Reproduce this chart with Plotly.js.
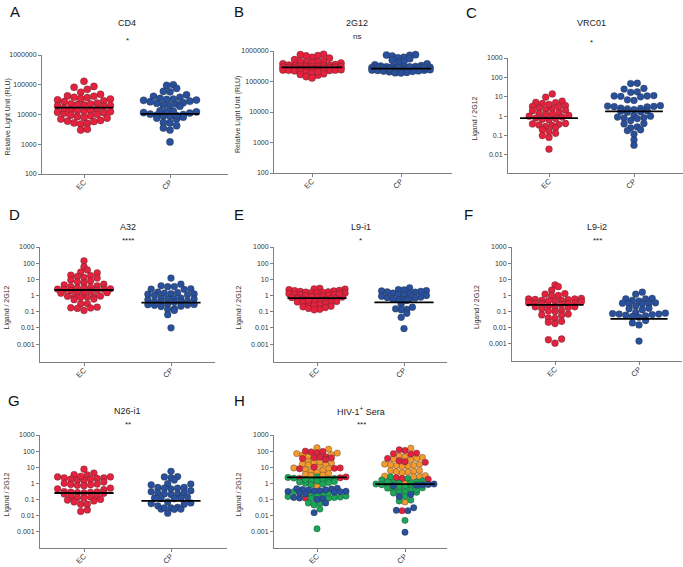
<!DOCTYPE html>
<html>
<head>
<meta charset="utf-8">
<script src="https://cdn.plot.ly/plotly-3.0.1.min.js"></script>
<style>
  body { margin: 0; background: #fff; }
  #chart { width: 683px; height: 567px; }
</style>
</head>
<body>
<div id="chart"></div>
<script>
const groups = ["EC", "CP"]

// y tick labels
const rluTicks = [100, 1000, 10000, 100000, 1000000]
const ratioTicksC = [0.01, 0.1, 1, 10, 100, 1000]
const ratioTicks = [0.001, 0.01, 0.1, 1, 10, 100, 1000]

// A - CD4 (RLU)
const cd4_ec = [130000, 82000, 88000, 56000, 48000, 70000, 42000, 38000, 34000, 31000, 29000, 27000, 33000, 37000, 41000,
  23000, 21000, 19500, 21500, 24000, 22500, 20000, 18500, 14500, 13000, 12000, 11000, 13500, 15000, 11500, 12500, 14000,
  16000, 9000, 8500, 7600, 7000, 8000, 9500, 10200, 5200, 4800, 6000, 6300, 5000, 5800, 3000, 3200]
const cd4_cp = [95000, 100000, 76000, 60000, 58000, 46000, 38000, 35000, 33000, 30000, 32000, 41000, 28000, 25000, 22500,
  20000, 19000, 21000, 24000, 27000, 30500, 13000, 12500, 11200, 10000, 9600, 10300, 11600, 12200, 13300, 9100, 8600,
  7600, 7100, 8100, 9200, 5200, 5400, 3500, 3000, 4200, 1200]
const cd4_med = [17000, 10500]

// B - 2G12 (RLU)
const g12_ec = [780000, 700000, 620000, 520000, 580000, 690000, 760000, 470000, 440000, 420000, 400000, 380000, 410000,
  450000, 360000, 340000, 330000, 320000, 310000, 300000, 305000, 315000, 325000, 345000, 290000, 280000, 270000, 260000,
  265000, 275000, 285000, 295000, 250000, 240000, 235000, 230000, 238000, 245000, 255000, 225000, 220000, 215000, 200000,
  190000, 180000, 170000, 160000, 145000, 130000, 210000]
const g12_cp = [740000, 680000, 760000, 720000, 620000, 600000, 560000, 500000, 450000, 420000, 380000, 350000, 330000,
  320000, 310000, 305000, 300000, 295000, 290000, 285000, 280000, 275000, 270000, 265000, 260000, 255000, 250000, 245000,
  240000, 235000, 230000, 225000, 220000, 215000, 210000, 200000, 195000, 190000, 300000, 290000, 280000, 260000]
const g12_med = [290000, 265000]

// C - VRC01
const vrc_ec = [14, 9.5, 6, 5, 5.2, 4.5, 3.5, 3, 2.5, 2.2, 2.7, 3.2, 4, 2, 1.9, 1.5, 1.3, 1.1, 1.0, 0.9, 1.2, 1.4, 0.75,
  0.7, 0.65, 0.8, 0.4, 0.35, 0.38, 0.33, 0.42, 0.25, 0.3, 0.16, 0.2, 0.1, 0.13, 0.08, 0.02]
const vrc_cp = [50, 48, 25, 27, 17, 18, 11, 10, 11.5, 10.5, 11, 7, 6.5, 3.5, 3, 3.3, 3.2, 3.1, 2.6, 2.4, 2.2, 2.5, 1.8, 1.7,
  1.6, 1.9, 1.1, 1.0, 0.9, 0.85, 0.8, 0.75, 0.6, 0.42, 0.4, 0.25, 0.28, 0.18, 0.2, 0.12, 0.06, 0.032]
const vrc_med = [0.8, 1.75]

// D - A32
const a32_ec = [140, 60, 38, 25, 28, 17, 15, 18, 13, 12, 9, 8, 6, 7, 5, 4.5, 4, 3.6, 3.2, 3, 2.8, 2.5, 2.3, 2.1, 2.0, 1.9,
  2.4, 2.6, 1.6, 1.5, 1.4, 1.55, 0.9, 0.85, 0.8, 0.75, 0.8, 0.92, 0.6, 0.55, 0.32, 0.3, 0.19, 0.17, 0.16, 0.175, 0.12]
const a32_cp = [12, 5, 3.5, 3.6, 4, 2.6, 2.5, 2.4, 1.6, 1.4, 1.3, 1.2, 1.1, 1.0, 1.25, 1.5, 0.7, 0.65, 0.6, 0.55, 0.62,
  0.68, 0.45, 0.42, 0.4, 0.38, 0.41, 0.3, 0.28, 0.26, 0.25, 0.27, 0.22, 0.21, 0.15, 0.14, 0.12, 0.065, 0.01]
const a32_med = [2.2, 0.36]

// E - L9-i1
const l9i1_ec = [2.8, 2.6, 2.5, 2.3, 2.1, 2.0, 1.9, 1.8, 1.7, 1.6, 1.55, 1.5, 1.45, 1.4, 1.3, 1.2, 1.15, 1.1, 1.0, 0.95,
  0.9, 0.85, 0.8, 0.75, 0.7, 0.66, 0.62, 0.58, 0.55, 0.5, 0.46, 0.43, 0.4, 0.38, 0.36, 0.33, 0.3, 0.27, 0.25, 0.22, 0.2,
  0.18, 0.16, 0.14, 0.13, 1.25, 0.88, 0.52]
const l9i1_cp = [3, 2.2, 2.3, 2.0, 1.9, 1.8, 1.6, 1.4, 1.3, 1.2, 1.1, 1.0, 0.9, 0.8, 0.75, 0.7, 0.6, 0.55, 0.55, 0.6, 0.5,
  0.3, 0.19, 0.14, 0.13, 0.15, 0.08, 0.045, 0.009, 1.7]
const l9i1_med = [0.7, 0.38]

// F - L9-i2
const l9i2_ec = [4.5, 3.5, 2.1, 1.3, 1.2, 1.0, 0.95, 0.65, 0.6, 0.55, 0.5, 0.45, 0.42, 0.46, 0.5, 0.56, 0.6, 0.35, 0.33,
  0.3, 0.28, 0.31, 0.32, 0.22, 0.2, 0.18, 0.2, 0.21, 0.15, 0.12, 0.1, 0.11, 0.06, 0.07, 0.062, 0.038, 0.04, 0.025, 0.022,
  0.018, 0.002, 0.0018, 0.0011]
const l9i2_cp = [1.6, 1.2, 0.65, 0.6, 0.62, 0.45, 0.5, 0.35, 0.33, 0.3, 0.31, 0.32, 0.22, 0.15, 0.16, 0.13, 0.09, 0.08,
  0.07, 0.065, 0.055, 0.05, 0.06, 0.07, 0.075, 0.045, 0.028, 0.02, 0.015, 0.0015]
const l9i2_med = [0.26, 0.035]

// G - N26-i1
const n26_ec = [7.5, 4.3, 3.3, 3.5, 2.5, 2.2, 2.0, 1.8, 1.6, 1.5, 1.8, 2.2, 2.5, 2.7, 1.2, 1.0, 0.9, 0.8, 0.85, 0.7, 0.75,
  0.45, 0.5, 0.4, 0.3, 0.28, 0.26, 0.24, 0.25, 0.27, 0.29, 0.22, 0.15, 0.14, 0.13, 0.12, 0.16, 0.09, 0.08, 0.1, 0.07,
  0.05, 0.05, 0.018, 0.022]
const n26_cp = [5.5, 2.5, 2.2, 2.6, 1.6, 0.9, 0.8, 0.95, 0.55, 0.5, 0.45, 0.5, 0.55, 0.3, 0.25, 0.22, 0.2, 0.22, 0.26,
  0.35, 0.14, 0.12, 0.11, 0.12, 0.11, 0.07, 0.06, 0.05, 0.055, 0.032, 0.03, 0.04, 0.025, 0.024, 0.025, 0.03, 0.014]
const n26_med = [0.25, 0.08]

// H - HIV-1+ sera, four colour groups
const sera_ec_orange = [130, 160, 75, 70, 60, 55, 45, 22, 20, 18, 16, 15, 14, 13, 21, 9, 8, 7, 6, 5.5, 5, 4, 3.5, 3, 3.2, 0.7]
const sera_ec_red = [100, 90, 80, 95, 45, 40, 42, 38, 35, 30, 10, 9, 8, 8.5, 2.5, 2.2, 2.0, 0.12]
const sera_ec_green = [2.5, 2.3, 2.0, 1.8, 1.6, 1.5, 1.3, 1.1, 1.0, 0.9, 0.8, 1.2, 1.4, 1.7, 2.1, 0.2, 0.18, 0.15, 0.14,
  0.13, 0.12, 0.11, 0.16, 0.17, 0.055, 0.06, 0.045, 0.025, 0.0015, 0.3, 0.25]
const sera_ec_blue = [0.5, 0.45, 0.4, 0.35, 0.32, 0.3, 0.28, 0.31, 0.33, 0.38, 0.42, 0.46, 0.12, 0.13, 0.11, 0.1, 0.06,
  0.015, 0.25, 0.22]
const sera_cp_orange = [150, 50, 40, 45, 35, 30, 32, 15, 13, 12, 11, 12.5, 14, 15.5, 6, 5.5, 5, 4.5, 5.2, 6.2, 2.8, 2.5,
  2.6, 3, 0.07, 1.0]
const sera_cp_red = [110, 120, 70, 75, 65, 35, 25, 22, 20, 2.2, 2.0, 1.8, 0.02]
const sera_cp_green = [2.5, 2.0, 1.6, 1.4, 1.2, 1.1, 1.0, 0.9, 0.8, 0.7, 0.6, 0.5, 0.4, 0.35, 0.3, 0.28, 0.25, 0.31,
  0.42, 0.52, 0.62, 0.82, 1.05, 1.25, 0.15, 0.08, 0.09, 0.005]
const sera_cp_blue = [0.9, 0.85, 0.8, 0.75, 0.7, 0.2, 0.15, 0.02, 0.021, 0.03, 0.0009]
const sera_med = [2.3, 0.9]

const RED = "#e4223d", BLUE = "#28509c", ORANGE = "#f39a2f", GREEN = "#1ba659"
const W = 683, H = 567
const FONT = "Liberation Sans, Arial, sans-serif"
const RLU = "Relative Light Unit (RLU)"
const LIG = "Ligand / 2G12"

// box: pixel positions of each panel's axes; lo/hi are the log10 range
// row: height of a scatter row in px, dx: spacing of points in a row, maxN: most points in one row
const panels = [
  { letter: "A", title: "CD4", sig: "*", ytitle: RLU, ticks: rluTicks, med: cd4_med,
    sets: [[[cd4_ec, RED]], [[cd4_cp, BLUE]]],
    box: { l: 42, r: 228, t: 55, b: 174, xec: 84, xcp: 170, lo: 2, hi: 6 },
    size: 7.2, row: 6, dx: 6.6, maxN: 9, ty: 23, sy: 40, lx: 15, ly: 11, yx: 7 },
  { letter: "B", title: "2G12", sig: "ns", ytitle: RLU, ticks: rluTicks, med: g12_med,
    sets: [[[g12_ec, RED]], [[g12_cp, BLUE]]],
    box: { l: 274, r: 452, t: 51, b: 173, xec: 312, xcp: 401, lo: 2, hi: 6 },
    size: 7.2, row: 4.6, dx: 5.8, maxN: 11, ty: 23, sy: 36, lx: 239, ly: 11, yx: 238 },
  { letter: "C", title: "VRC01", sig: "*", ytitle: LIG, ticks: ratioTicksC, med: vrc_med,
    sets: [[[vrc_ec, RED]], [[vrc_cp, BLUE]]],
    box: { l: 508, r: 683, t: 58, b: 173, xec: 549, xcp: 634, lo: -2.93, hi: 3 },
    size: 6.8, row: 5, dx: 6.6, maxN: 9, ty: 23, sy: 42, lx: 471, ly: 12, yx: 475 },
  { letter: "D", title: "A32", sig: "****", ytitle: LIG, ticks: ratioTicks, med: a32_med,
    sets: [[[a32_ec, RED]], [[a32_cp, BLUE]]],
    box: { l: 40, r: 215, t: 247, b: 362, xec: 84, xcp: 171, lo: -4.11, hi: 3 },
    size: 6.8, row: 5, dx: 6.6, maxN: 9, ty: 227, sy: 240, lx: 14, ly: 214, yx: 6 },
  { letter: "E", title: "L9-i1", sig: "*", ytitle: LIG, ticks: ratioTicks, med: l9i1_med,
    sets: [[[l9i1_ec, RED]], [[l9i1_cp, BLUE]]],
    box: { l: 274, r: 447, t: 247, b: 362, xec: 317, xcp: 404, lo: -4.11, hi: 3 },
    size: 6.8, row: 4.2, dx: 5.6, maxN: 11, ty: 227, sy: 240, lx: 239, ly: 214, yx: 238 },
  { letter: "F", title: "L9-i2", sig: "***", ytitle: LIG, ticks: ratioTicks, med: l9i2_med,
    sets: [[[l9i2_ec, RED]], [[l9i2_cp, BLUE]]],
    box: { l: 512, r: 682, t: 247, b: 361, xec: 555, xcp: 639, lo: -4.06, hi: 3 },
    size: 6.8, row: 5, dx: 6.6, maxN: 9, ty: 227, sy: 240, lx: 468, ly: 214, yx: 477 },
  { letter: "G", title: "N26-i1", sig: "**", ytitle: LIG, ticks: ratioTicks, med: n26_med,
    sets: [[[n26_ec, RED]], [[n26_cp, BLUE]]],
    box: { l: 40, r: 227, t: 435, b: 548, xec: 84, xcp: 171, lo: -4.02, hi: 3 },
    size: 6.8, row: 5, dx: 6.6, maxN: 9, ty: 411, sy: 424, lx: 14, ly: 400, yx: 6 },
  { letter: "H", title: "HIV-1<sup>+</sup> Sera", sig: "***", ytitle: LIG, ticks: ratioTicks, med: sera_med,
    sets: [
      [[sera_ec_orange, ORANGE], [sera_ec_red, RED], [sera_ec_green, GREEN], [sera_ec_blue, BLUE]],
      [[sera_cp_orange, ORANGE], [sera_cp_red, RED], [sera_cp_green, GREEN], [sera_cp_blue, BLUE]]],
    box: { l: 274, r: 447, t: 435, b: 548, xec: 317, xcp: 405, lo: -4.02, hi: 3 },
    size: 6.4, row: 4.6, dx: 5.8, maxN: 11, ty: 411, sy: 424, lx: 239, ly: 400, yx: 238 },
]

// Prism-style column scatter: bin points into rows, lowest values in the middle of a row
function rows(ys, rowH, dx, maxN) {
  const order = ys.map((y, i) => i).sort((a, b) => ys[a] - ys[b])
  const xs = new Array(ys.length).fill(0)
  let k = 0
  while (k < order.length) {
    const start = ys[order[k]]
    const bin = []
    while (k < order.length && bin.length < maxN && ys[order[k]] - start < rowH) bin.push(order[k++])
    const n = bin.length
    const slots = Array.from({ length: n }, (_, j) => (j - (n - 1) / 2) * dx)
      .sort((a, b) => Math.abs(a) - Math.abs(b) || a - b)
    bin.forEach((idx, j) => { xs[idx] = slots[j] })
  }
  return xs
}

const px = (x) => x / W
const py = (y) => 1 - y / H

const data = []
const annotations = []
const layout = {
  width: W,
  height: H,
  margin: { l: 0, r: 0, t: 0, b: 0 },
  paper_bgcolor: "#fff",
  plot_bgcolor: "rgba(0,0,0,0)",
  showlegend: false,
  font: { family: FONT, color: "#333" },
  annotations,
}

panels.forEach((p, i) => {
  const n = i === 0 ? "" : String(i + 1)
  const b = p.box
  const unit = b.xcp - b.xec
  const pxPerDec = (b.b - b.t) / (b.hi - b.lo)

  p.sets.forEach((sets, g) => {
    const pts = sets.flatMap(([vals, color]) => vals.map((v) => ({ v, color })))
    const offs = rows(pts.map((q) => Math.log10(q.v) * pxPerDec), p.row, p.dx, p.maxN)
    sets.forEach(([, color]) => {
      const idx = pts.map((q, k) => k).filter((k) => pts[k].color === color)
      data.push({
        type: "scatter",
        mode: "markers",
        xaxis: "x" + n,
        yaxis: "y" + n,
        x: idx.map((k) => g + 1 + offs[k] / unit),
        y: idx.map((k) => pts[k].v),
        marker: { size: p.size, color, line: { width: 0.6, color: "rgba(40,40,40,0.55)" } },
        cliponaxis: false,
        hoverinfo: "y",
      })
    })
    data.push({
      type: "scatter",
      mode: "lines",
      xaxis: "x" + n,
      yaxis: "y" + n,
      x: [g + 1 - 0.34, g + 1 + 0.34],
      y: [p.med[g], p.med[g]],
      line: { color: "#000", width: 1.8 },
      hoverinfo: "skip",
    })
  })

  layout["xaxis" + n] = {
    domain: [px(b.l), px(b.r)],
    anchor: "y" + n,
    range: [1 - (b.xec - b.l) / unit, 2 + (b.r - b.xcp) / unit],
    tickmode: "array",
    tickvals: [1, 2],
    ticktext: groups,
    tickangle: -45,
    ticks: "outside",
    ticklen: 3,
    tickcolor: "#808080",
    ticklabelstandoff: -3,
    tickfont: { size: 7.5, color: "#333" },
    showline: true,
    linecolor: "#808080",
    linewidth: 1,
    showgrid: false,
    zeroline: false,
    fixedrange: true,
  }
  layout["yaxis" + n] = {
    domain: [py(b.b), py(b.t)],
    anchor: "x" + n,
    type: "log",
    range: [b.lo, b.hi],
    tickmode: "array",
    tickvals: p.ticks,
    ticktext: p.ticks.map(String),
    ticks: "outside",
    ticklen: 3,
    tickcolor: "#808080",
    tickfont: { size: 7, color: "#333" },
    showline: true,
    linecolor: "#808080",
    linewidth: 1,
    showgrid: false,
    zeroline: false,
    fixedrange: true,
  }

  const cx = (b.xec + b.xcp) / 2
  annotations.push(
    { text: p.letter, x: px(p.lx), y: py(p.ly), xref: "paper", yref: "paper", showarrow: false,
      xanchor: "center", yanchor: "middle", font: { size: 15, color: "#111" } },
    { text: p.title, x: px(cx), y: py(p.ty), xref: "paper", yref: "paper", showarrow: false,
      xanchor: "center", yanchor: "middle", font: { size: 9, color: "#222" } },
    { text: p.sig, x: px(cx), y: py(p.sy), xref: "paper", yref: "paper", showarrow: false,
      xanchor: "center", yanchor: "middle", font: { size: 8, color: "#222" } },
    { text: p.ytitle, x: px(p.yx), y: py((b.t + b.b) / 2 + 3), xref: "paper", yref: "paper", showarrow: false,
      textangle: -90, xanchor: "center", yanchor: "middle", font: { size: 7, color: "#333" } }
  )
})

Plotly.newPlot("chart", data, layout, { staticPlot: true })
</script>
</body>
</html>
